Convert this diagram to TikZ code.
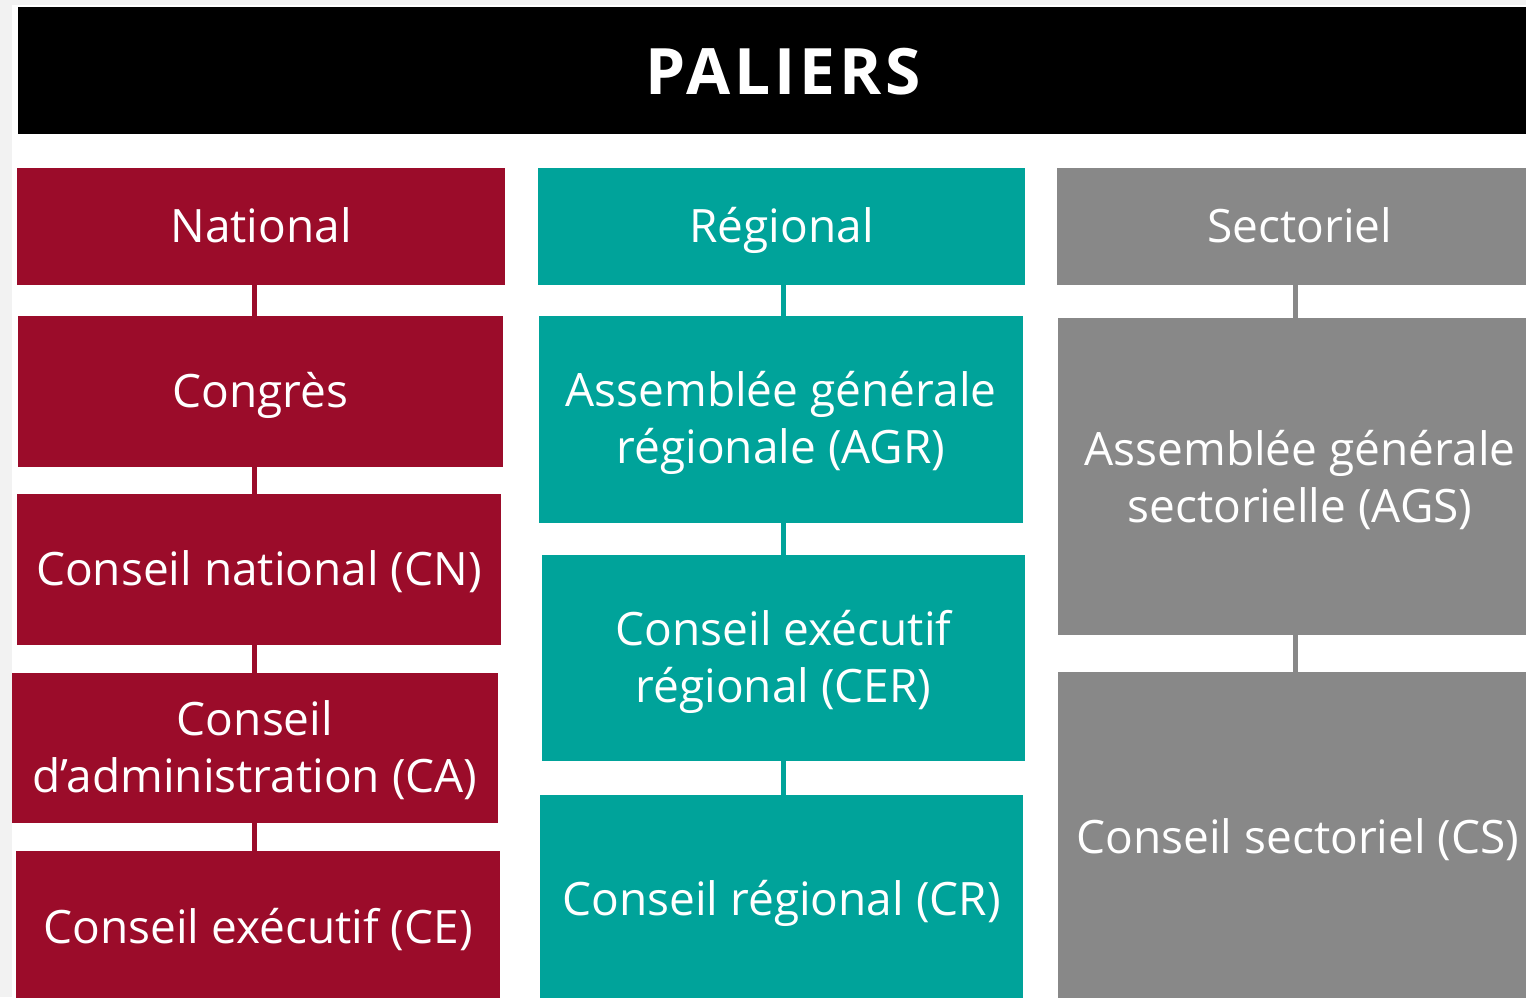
\documentclass[tikz,border=0pt]{standalone}
\usepackage{fontspec}
\setmainfont{Open Sans}
\definecolor{cred}{RGB}{155,12,42}
\definecolor{cteal}{RGB}{0,163,154}
\definecolor{cgray}{RGB}{136,136,136}
\definecolor{bgl}{RGB}{242,242,242}
\newcommand{\ph}{\vphantom{Éy}}
\tikzset{
  box/.style={rectangle, inner sep=0pt, text=white, align=center,
    font=\fontsize{46}{57}\selectfont},
  redbox/.style={box, fill=cred},
  tealbox/.style={box, fill=cteal},
  graybox/.style={box, fill=cgray},
  lbl/.style={text=white, align=center, inner sep=0pt, font=\fontsize{46}{57}\selectfont},
  link/.style={line width=5pt},
}
\newcommand{\mkbox}[7]{% style, name, x1, y1, x2, y2, text
  \node[#1, minimum width={(#5)-(#3)}, minimum height={(#6)-(#4)}] (#2) at ({((#3)+(#5))/2},{((#4)+(#6))/2}) {#7};}
\begin{document}
\begin{tikzpicture}[x=1pt,y=-1pt]
\useasboundingbox (0,0) rectangle (1526,997);
\fill[bgl] (0,0) rectangle (1526,997);
\fill[white] (12,5) rectangle (1526,997);
\node[rectangle, fill=black, inner sep=0pt, minimum width=1508pt, minimum height=127pt] (head) at (772,70.5) {};
\node[text=white, inner sep=0pt, font=\fontsize{64}{70}\selectfont\bfseries\addfontfeatures{LetterSpace=6}] (headT) at (783,72) {PALIERS};
% column 1
\mkbox{redbox}{nat}{17}{168}{505}{285}{\ph National}
\mkbox{redbox}{cong}{18}{316}{503}{467}{\ph Congrès}
\mkbox{redbox}{cn}{17}{494}{501}{645}{\ph Conseil national (CN)}
\mkbox{redbox}{ca}{12}{673}{498}{823}{\ph Conseil\\\ph d’administration (CA)}
\mkbox{redbox}{ce}{16}{851}{500}{1005}{\ph Conseil exécutif (CE)}
% column 2
\mkbox{tealbox}{reg}{538}{168}{1025}{285}{\ph Régional}
\mkbox{tealbox}{agr}{539}{316}{1023}{523}{\ph Assemblée générale\\\ph régionale (AGR)}
\mkbox{tealbox}{cer}{542}{555}{1025}{761}{\ph Conseil exécutif\\\ph régional (CER)}
\mkbox{tealbox}{cr}{540}{795}{1023}{1005}{\ph Conseil régional (CR)}
% column 3
\mkbox{graybox}{sec}{1057}{168}{1545}{285}{}
\mkbox{graybox}{ags}{1058}{318}{1545}{635}{}
\mkbox{graybox}{cs}{1058}{672}{1545}{1005}{}
\node[lbl] (secT) at (1300,227) {\ph Sectoriel};
\node[lbl] (agsT) at (1300,478) {\ph Assemblée générale\\\ph sectorielle (AGS)};
\node[lbl] (csT) at (1298,838) {\ph Conseil sectoriel (CS)};
% connectors
\coordinate (x1) at (254,0);
\coordinate (x2) at (783,0);
\coordinate (x3) at (1295,0);
\draw[link, cred] (nat.south -| x1) -- (cong.north -| x1);
\draw[link, cred] (cong.south -| x1) -- (cn.north -| x1);
\draw[link, cred] (cn.south -| x1) -- (ca.north -| x1);
\draw[link, cred] (ca.south -| x1) -- (ce.north -| x1);
\draw[link, cteal] (reg.south -| x2) -- (agr.north -| x2);
\draw[link, cteal] (agr.south -| x2) -- (cer.north -| x2);
\draw[link, cteal] (cer.south -| x2) -- (cr.north -| x2);
\draw[link, cgray] (sec.south -| x3) -- (ags.north -| x3);
\draw[link, cgray] (ags.south -| x3) -- (cs.north -| x3);
\end{tikzpicture}
\end{document}
